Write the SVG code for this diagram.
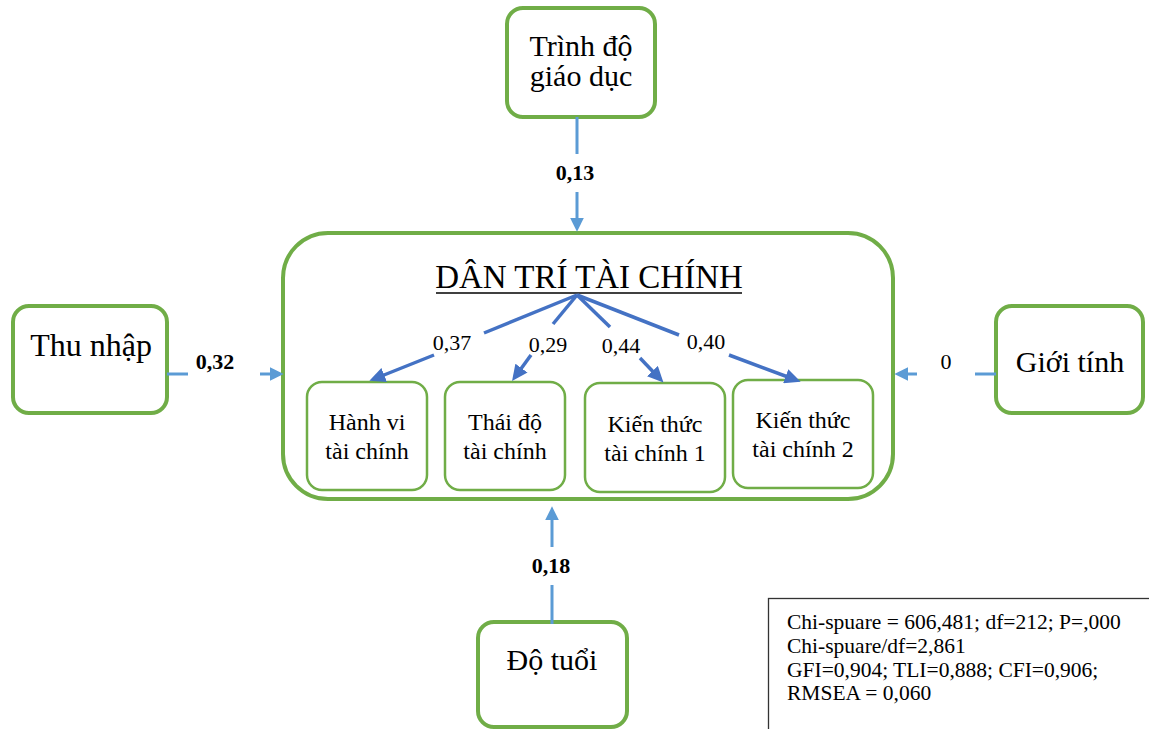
<svg xmlns="http://www.w3.org/2000/svg" width="1149" height="729" viewBox="0 0 1149 729">
<style>
  .node{fill:#fff;stroke:#70AD47;stroke-width:4}
  .inner{fill:#fff;stroke:#70AD47;stroke-width:2.5}
  .big{fill:#fff;stroke:#70AD47;stroke-width:4}
  text{font-family:"Liberation Serif","Times New Roman",serif;fill:#000}
  .t30{font-size:30px;text-anchor:middle}
  .t24{font-size:24px;text-anchor:middle}
  .lbl{font-size:22px;text-anchor:middle}
  .blbl{font-size:22px;font-weight:bold;text-anchor:middle}
  .conn{fill:none;stroke:#5B9BD5;stroke-width:3}
  .load{fill:none;stroke:#4472C4;stroke-width:3.5}
  .stats{font-size:21.5px}
</style>
<defs>
  <marker id="ah" markerUnits="userSpaceOnUse" markerWidth="14" markerHeight="14" viewBox="0 0 12 12" refX="8" refY="6" orient="auto">
    <path d="M0,0 L12,6 L0,12 z" fill="#5B9BD5"/>
  </marker>
  <marker id="ahl" markerUnits="userSpaceOnUse" markerWidth="16" markerHeight="15" viewBox="0 0 16 15" refX="11" refY="7.5" orient="auto">
    <path d="M0,0 L16,7.5 L0,15 z" fill="#4472C4"/>
  </marker>
</defs>

<g id="dan-tri-tai-chinh">
  <rect class="big" x="283" y="233" width="610" height="266" rx="45"/>
  <text x="589" y="288" style="font-size:33px;text-anchor:middle">DÂN TRÍ TÀI CHÍNH</text>
  <line x1="436" y1="293" x2="742" y2="293" stroke="#000" stroke-width="1.6"/>
</g>

<g id="hanh-vi">
  <rect class="inner" x="307" y="382" width="120" height="108" rx="15"/>
  <text class="t24" x="367" y="430">Hành vi</text>
  <text class="t24" x="367" y="459">tài chính</text>
</g>
<g id="thai-do">
  <rect class="inner" x="445" y="382" width="120" height="108" rx="15"/>
  <text class="t24" x="505" y="430">Thái độ</text>
  <text class="t24" x="505" y="459">tài chính</text>
</g>
<g id="kien-thuc-1">
  <rect class="inner" x="585" y="383" width="140" height="109" rx="15"/>
  <text class="t24" x="655" y="432">Kiến thức</text>
  <text class="t24" x="655" y="461">tài chính 1</text>
</g>
<g id="kien-thuc-2">
  <rect class="inner" x="733" y="380" width="140" height="108" rx="15"/>
  <text class="t24" x="803" y="428">Kiến thức</text>
  <text class="t24" x="803" y="457">tài chính 2</text>
</g>

<g id="trinh-do-giao-duc">
  <rect class="node" x="507" y="8" width="148" height="109" rx="16"/>
  <text class="t30" x="581" y="56">Trình độ</text>
  <text class="t30" x="581" y="86">giáo dục</text>
</g>
<g id="thu-nhap">
  <rect class="node" x="13" y="306" width="154" height="107" rx="16"/>
  <text x="91" y="356" style="font-size:32px;text-anchor:middle">Thu nhập</text>
</g>
<g id="gioi-tinh">
  <rect class="node" x="996" y="306" width="147" height="107" rx="16"/>
  <text class="t30" x="1070" y="372">Giới tính</text>
</g>
<g id="do-tuoi">
  <rect class="node" x="478" y="622" width="149" height="105" rx="16"/>
  <text class="t30" x="552" y="670">Độ tuổi</text>
</g>

<g id="connectors">
  <!-- Trình độ -> DTTC -->
  <line class="conn" x1="577" y1="117" x2="577" y2="154"/>
  <line class="conn" x1="577" y1="192" x2="577" y2="227" marker-end="url(#ah)"/>
  <text class="blbl" x="575" y="180">0,13</text>
  <!-- Thu nhập -> DTTC -->
  <line class="conn" x1="167" y1="374" x2="188" y2="374"/>
  <line class="conn" x1="260" y1="374" x2="279" y2="374" marker-end="url(#ah)"/>
  <text class="blbl" x="215" y="369">0,32</text>
  <!-- Giới tính -> DTTC -->
  <line class="conn" x1="996" y1="374" x2="975" y2="374"/>
  <line class="conn" x1="917" y1="374" x2="899" y2="374" marker-end="url(#ah)"/>
  <text class="lbl" x="946" y="369">0</text>
  <!-- Độ tuổi -> DTTC -->
  <line class="conn" x1="552" y1="624" x2="552" y2="585"/>
  <line class="conn" x1="552" y1="547" x2="552" y2="511" marker-end="url(#ah)"/>
  <text class="blbl" x="551" y="573">0,18</text>

  <!-- loadings -->
  <line class="load" x1="577" y1="295" x2="484" y2="333"/>
  <line class="load" x1="434" y1="355" x2="374" y2="379" marker-end="url(#ahl)"/>
  <text class="lbl" x="452" y="350">0,37</text>

  <line class="load" x1="577" y1="295" x2="553" y2="324"/>
  <line class="load" x1="531" y1="355" x2="515" y2="377" marker-end="url(#ahl)"/>
  <text class="lbl" x="548" y="352">0,29</text>

  <line class="load" x1="577" y1="295" x2="610" y2="327"/>
  <line class="load" x1="640" y1="358" x2="660" y2="379" marker-end="url(#ahl)"/>
  <text class="lbl" x="621" y="353">0,44</text>

  <line class="load" x1="577" y1="295" x2="679" y2="335"/>
  <line class="load" x1="729" y1="355" x2="796" y2="380" marker-end="url(#ahl)"/>
  <text class="lbl" x="706" y="349">0,40</text>
</g>

<g id="fit-stats">
  <rect x="768.5" y="598.5" width="400" height="150" fill="#fff" stroke="#333" stroke-width="1.3"/>
  <text class="stats" x="787" y="629">Chi-spuare = 606,481; df=212; P=,000</text>
  <text class="stats" x="787" y="653">Chi-spuare/df=2,861</text>
  <text class="stats" x="787" y="677">GFI=0,904; TLI=0,888; CFI=0,906;</text>
  <text class="stats" x="787" y="700">RMSEA = 0,060</text>
</g>
</svg>
